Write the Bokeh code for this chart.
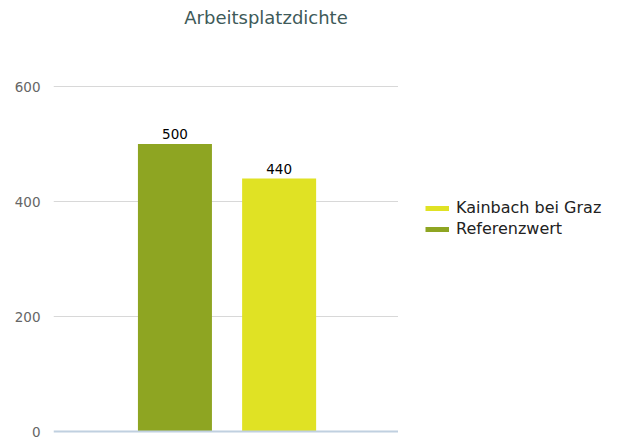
from bokeh.plotting import figure
from bokeh.layouts import row
from bokeh.models import (Range1d, FactorRange, FixedTicker, Span, Label,
                          Legend, LegendItem, ColumnDataSource)
from bokeh.transform import dodge
from bokeh.core.properties import value
from bokeh.embed import file_html
from bokeh.resources import INLINE

# ---- data ----
chart_title = "Arbeitsplatzdichte"
category = ["Arbeitsplatzdichte"]
series_names = ["Referenzwert", "Kainbach bei Graz"]
series_values = [500, 440]
legend_order = ["Kainbach bei Graz", "Referenzwert"]
y_ticks = [0, 200, 400, 600]

# ---- styles ----
colors = {"Referenzwert": "#8EA522", "Kainbach bei Graz": "#E0E224"}
offsets = {"Referenzwert": -0.148, "Kainbach bei Graz": 0.154}
FONT = "DejaVu Sans"

p = figure(width=398, height=439,
           x_range=FactorRange(*category),
           y_range=Range1d(-13.91, 749.57),
           output_backend="svg", toolbar_location=None,
           min_border_left=53, min_border_right=0,
           min_border_top=0, min_border_bottom=0)
p.outline_line_color = None
p.background_fill_color = "white"
p.border_fill_color = "white"
p.xaxis.visible = False
p.xgrid.visible = False

p.ygrid.ticker = FixedTicker(ticks=[t for t in y_ticks if t != 0])
p.ygrid.grid_line_color = "#D8D8D8"
p.ygrid.grid_line_width = 1

yax = p.yaxis[0]
yax.ticker = FixedTicker(ticks=y_ticks)
yax.axis_line_color = None
yax.major_tick_line_color = None
yax.minor_tick_line_color = None
yax.major_tick_out = 0
yax.major_tick_in = 0
yax.major_label_standoff = 13
yax.major_label_text_font = FONT
yax.major_label_text_font_size = "13.5px"
yax.major_label_text_color = "#666666"

p.add_layout(Span(location=0, dimension="width", line_color="#C0D0E0", line_width=2))

for name, val in zip(series_names, series_values):
    src = ColumnDataSource(dict(x=category, top=[val], label=[str(val)]))
    xd = dodge("x", offsets[name], range=p.x_range)
    p.vbar(x=xd, top="top", width=0.2145, source=src,
           fill_color=colors[name], line_color=None)
    p.text(x=xd, y="top", text="label", source=src,
           text_align="center", text_baseline="alphabetic", y_offset=-10,
           text_font=value(FONT), text_font_size="13.5px", text_color="#000000")

p.add_layout(Label(x=212.5, y=422, x_units="screen", y_units="screen",
                   text=chart_title, text_align="center", text_baseline="alphabetic",
                   text_font=FONT, text_font_size="18px", text_color="#3E5A59"))

# legend panel
pl = figure(width=219, height=439, x_range=Range1d(0, 1), y_range=Range1d(0, 1),
            output_backend="svg", toolbar_location=None,
            x_axis_type=None, y_axis_type=None,
            min_border_left=0, min_border_right=0, min_border_top=0, min_border_bottom=0)
pl.outline_line_color = None
pl.grid.visible = False
pl.background_fill_color = "white"
pl.border_fill_color = "white"

legend_renderers = {}
for name in series_names:
    legend_renderers[name] = pl.line(x=[float("nan")], y=[float("nan")],
                                     line_color=colors[name], line_width=5)

legend = Legend(
    items=[LegendItem(label=n, renderers=[legend_renderers[n]]) for n in legend_order],
    location=(27, 201), orientation="vertical",
    glyph_width=24, glyph_height=18, label_height=18, label_standoff=7,
    spacing=2, padding=0, margin=0,
    border_line_color=None, background_fill_alpha=0,
    label_text_font=FONT, label_text_font_size="16px", label_text_color="#222222")
pl.add_layout(legend)

layout = row(p, pl, spacing=0)
open("out.html", "w").write(file_html(layout, INLINE))
